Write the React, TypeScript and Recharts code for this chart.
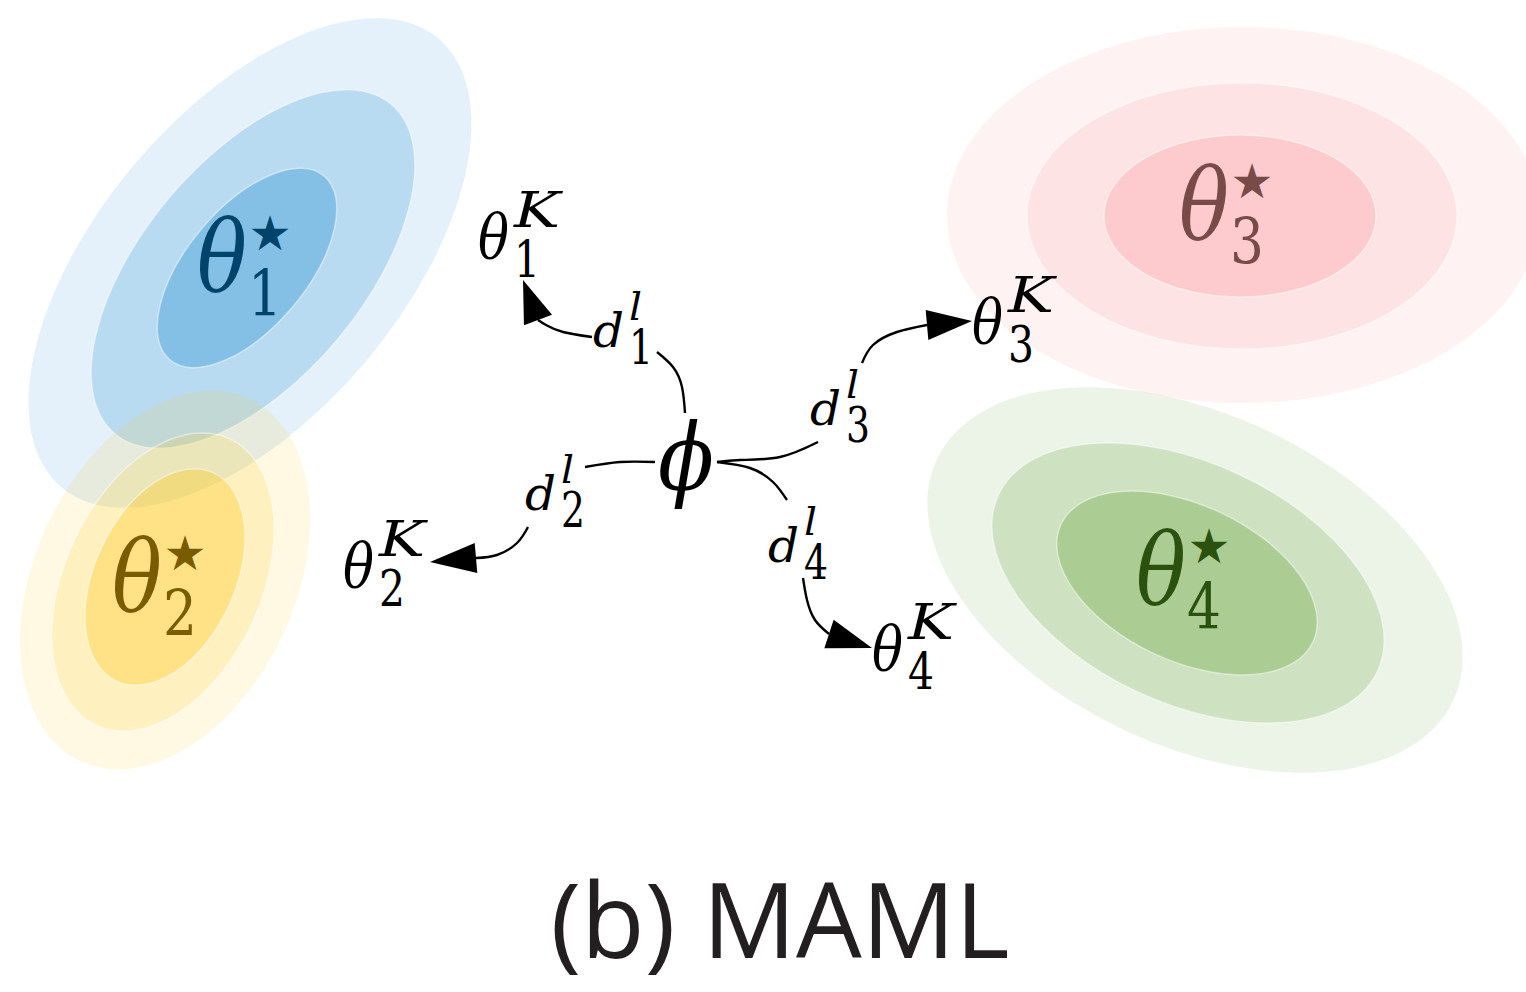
import { ComposedChart, XAxis, YAxis, Scatter, Line } from "recharts";

const W = 1526;
const H = 992;
const X_MAX = 1526;
const Y_MAX = 992;
// data units -> px (axes are hidden and there is no margin)
const KX = W / X_MAX;
const KY = H / Y_MAX;

// task optima: concentric ellipses, centre + semi axes, tilt in degrees (anticlockwise)
const blueRings = [
  { x: 250, y: 263, rx: 293, ry: 152, angle: 50, ring: "outer" },
  { x: 253, y: 269, rx: 215, ry: 110, angle: 50, ring: "middle" },
  { x: 247, y: 268, rx: 120, ry: 60, angle: 50, ring: "inner" },
];
const yellowRings = [
  { x: 165, y: 580, rx: 200, ry: 130, angle: 65, ring: "outer" },
  { x: 163, y: 582, rx: 158, ry: 98, angle: 65, ring: "middle" },
  { x: 165, y: 577, rx: 115, ry: 70, angle: 65, ring: "inner" },
];
const redRings = [
  { x: 1243, y: 215, rx: 296, ry: 188, angle: 0, ring: "outer" },
  { x: 1242, y: 216, rx: 215, ry: 133, angle: 0, ring: "middle" },
  { x: 1240, y: 216, rx: 136, ry: 81, angle: 0, ring: "inner" },
];
const greenRings = [
  { x: 1195, y: 580, rx: 285, ry: 166, angle: -25, ring: "outer" },
  { x: 1188, y: 583, rx: 209, ry: 120, angle: -25, ring: "middle" },
  { x: 1187, y: 583, rx: 139, ry: 78, angle: -25, ring: "inner" },
];

// labels (position = left edge / baseline of the main glyph)
const optimumLabels = [
  { x: 197, y: 292, sub: "1" },
  { x: 112, y: 612, sub: "2" },
  { x: 1179, y: 240, sub: "3" },
  { x: 1136, y: 605, sub: "4" },
];
const adaptedLabels = [
  { x: 478, y: 258, sub: "1" },
  { x: 343, y: 587, sub: "2" },
  { x: 972, y: 343, sub: "3" },
  { x: 872, y: 670, sub: "4" },
];
const stepLabels = [
  { x: 593, y: 347, sub: "1" },
  { x: 525, y: 510, sub: "2" },
  { x: 810, y: 425, sub: "3" },
  { x: 768, y: 562, sub: "4" },
];
const metaLabel = [{ x: 658, y: 490 }];
const caption = [{ x: 780, y: 958, text: "(b) MAML" }];

// curved edges: phi -> d (a) and d -> theta^K (b)
const edge1a = [{ x: 685, y: 413 }, { x: 682, y: 387 }, { x: 673, y: 367 }, { x: 657, y: 352 }];
const edge1b = [{ x: 592, y: 337 }, { x: 563, y: 332 }, { x: 546, y: 325 }, { x: 538, y: 320 }];
const edge2a = [{ x: 655, y: 462 }, { x: 620, y: 462 }, { x: 585, y: 467 }];
const edge2b = [{ x: 528, y: 527 }, { x: 517, y: 543 }, { x: 497, y: 555 }, { x: 476, y: 558 }];
const edge3a = [{ x: 717, y: 462 }, { x: 740, y: 460 }, { x: 780, y: 457 }, { x: 818, y: 442 }];
const edge3b = [{ x: 862, y: 363 }, { x: 873, y: 345 }, { x: 897, y: 332 }, { x: 927, y: 325 }];
const edge4a = [{ x: 717, y: 462 }, { x: 750, y: 468 }, { x: 773, y: 482 }, { x: 787, y: 500 }];
const edge4b = [{ x: 803, y: 578 }, { x: 807, y: 600 }, { x: 815, y: 620 }, { x: 829, y: 634 }];
const edges = [edge1a, edge1b, edge2a, edge2b, edge3a, edge3b, edge4a, edge4b];

// arrow tips and the middle of their bases
const arrowHeads = [
  { x: 523, y: 280, bx: 538, by: 320 },
  { x: 430, y: 562, bx: 476, by: 558 },
  { x: 972, y: 321, bx: 927, by: 325 },
  { x: 872, y: 648, bx: 829, by: 634 },
];

const MATH_FONT = "DejaVu Serif, serif";
const OPTIMUM_COLORS = ["#00436b", "#7a5c00", "#784a48", "#2a520e"];

const italic = (size: number) => ({ fontFamily: MATH_FONT, fontStyle: "italic", fontSize: size });
const upright = (size: number) => ({ fontFamily: MATH_FONT, fontStyle: "normal", fontSize: size });

const ringShape = (color: string, opacity: Record<string, number>) => (p: any) => {
  const { cx, cy, payload } = p;
  const inner = payload.ring !== "outer";
  return (
    <ellipse
      cx={cx}
      cy={cy}
      rx={payload.rx * KX}
      ry={payload.ry * KY}
      transform={`rotate(${-payload.angle} ${cx} ${cy})`}
      fill={color}
      fillOpacity={opacity[payload.ring]}
      stroke="#ffffff"
      strokeOpacity={inner ? 0.45 : 0}
      strokeWidth={1.5}
    />
  );
};

// glyph squeezed to the narrower Computer Modern width
function Glyph({ x, y, w, style, children }: any) {
  return (
    <text x={x} y={y} textLength={w} lengthAdjust="spacingAndGlyphs" style={style}>
      {children}
    </text>
  );
}

function OptimumLabel(p: any) {
  const { cx, cy, payload } = p;
  const c = OPTIMUM_COLORS[Number(payload.sub) - 1];
  return (
    <g fill={c}>
      <Glyph x={cx} y={cy} w={50} style={italic(99)}>θ</Glyph>
      <text x={cx + 73} y={cy - 59} textAnchor="middle" dominantBaseline="central" style={{ fontFamily: "DejaVu Sans", fontSize: 48 }}>★</text>
      <Glyph x={cx + 51} y={cy + 24} w={34} style={upright(64)}>{payload.sub}</Glyph>
    </g>
  );
}

function AdaptedLabel(p: any) {
  const { cx, cy, payload } = p;
  return (
    <g fill="#000">
      <Glyph x={cx} y={cy} w={31} style={italic(61)}>θ</Glyph>
      <Glyph x={cx + 36} y={cy - 31} w={46} style={italic(48)}>K</Glyph>
      <Glyph x={cx + 36} y={cy + 19} w={26} style={upright(51)}>{payload.sub}</Glyph>
    </g>
  );
}

function StepLabel(p: any) {
  const { cx, cy, payload } = p;
  return (
    <g fill="#000">
      <Glyph x={cx} y={cy} w={31} style={italic(46)}>d</Glyph>
      <Glyph x={cx + 36} y={cy - 27} w={13} style={italic(40)}>l</Glyph>
      <Glyph x={cx + 36} y={cy + 17} w={24} style={upright(48)}>{payload.sub}</Glyph>
    </g>
  );
}

function MetaLabel(p: any) {
  return (
    <g fill="#000">
      <Glyph x={p.cx} y={p.cy} w={56} style={italic(93)}>ϕ</Glyph>
    </g>
  );
}

function CaptionText(p: any) {
  return (
    <text x={p.cx} y={p.cy} textAnchor="middle" style={{ fontFamily: "Open Sans, sans-serif", fontSize: 104 }} fill="#231f20">
      {p.payload.text}
    </text>
  );
}

function ArrowHead(p: any) {
  const { cx, cy, payload } = p;
  const bx = cx + (payload.bx - payload.x) * KX;
  const by = cy + (payload.by - payload.y) * KY;
  const dx = cx - bx;
  const dy = cy - by;
  const len = Math.hypot(dx, dy) || 1;
  const nx = -dy / len;
  const ny = dx / len;
  const hw = 15;
  const d = `M${cx},${cy} L${bx + nx * hw},${by + ny * hw} L${bx - nx * hw},${by - ny * hw} Z`;
  return <path d={d} fill="#000" />;
}

export default function App() {
  return (
    <div style={{ position: "absolute", left: 0, top: 0, background: "#fff" }}>
      <ComposedChart width={W} height={H} margin={{ top: 0, right: 0, bottom: 0, left: 0 }}>
        <XAxis type="number" dataKey="x" domain={[0, X_MAX]} hide allowDataOverflow />
        <YAxis type="number" dataKey="y" domain={[0, Y_MAX]} reversed hide allowDataOverflow />

        <Scatter data={blueRings} dataKey="y" shape={ringShape("#218cd2", { outer: 0.12, middle: 0.22, inner: 0.35 })} isAnimationActive={false} />
        <Scatter data={yellowRings} dataKey="y" shape={ringShape("#fdc814", { outer: 0.12, middle: 0.17, inner: 0.34 })} isAnimationActive={false} />
        <Scatter data={redRings} dataKey="y" shape={ringShape("#fa6e73", { outer: 0.09, middle: 0.11, inner: 0.2 })} isAnimationActive={false} />
        <Scatter data={greenRings} dataKey="y" shape={ringShape("#6eaa46", { outer: 0.13, middle: 0.23, inner: 0.36 })} isAnimationActive={false} />

        {edges.map((e, i) => (
          <Line
            key={i}
            data={e}
            dataKey="y"
            type="natural"
            stroke="#000"
            strokeWidth={2.4}
            dot={false}
            activeDot={false}
            isAnimationActive={false}
          />
        ))}

        <Scatter data={arrowHeads} dataKey="y" shape={ArrowHead} isAnimationActive={false} />
        <Scatter data={optimumLabels} dataKey="y" shape={OptimumLabel} isAnimationActive={false} />
        <Scatter data={adaptedLabels} dataKey="y" shape={AdaptedLabel} isAnimationActive={false} />
        <Scatter data={stepLabels} dataKey="y" shape={StepLabel} isAnimationActive={false} />
        <Scatter data={metaLabel} dataKey="y" shape={MetaLabel} isAnimationActive={false} />
        <Scatter data={caption} dataKey="y" shape={CaptionText} isAnimationActive={false} />
      </ComposedChart>
    </div>
  );
}
